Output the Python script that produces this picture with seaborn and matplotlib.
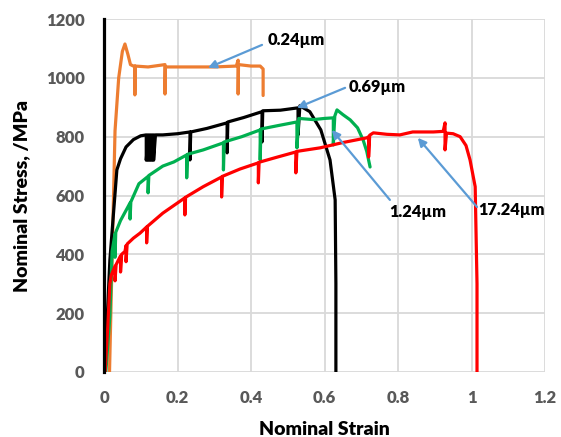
import matplotlib
matplotlib.use("Agg")
import matplotlib.pyplot as plt
import seaborn as sns
import pandas as pd

# ---- data ----
orange_x = [0.015, 0.03, 0.04, 0.05, 0.057, 0.065, 0.072, 0.08, 0.084, 0.084, 0.085, 0.12, 0.166, 0.166, 0.167,
            0.25, 0.30, 0.36, 0.365, 0.365, 0.366, 0.40, 0.425, 0.433, 0.433]
orange_y = [0, 820, 1000, 1090, 1115, 1080, 1045, 1040, 1040, 942, 1040, 1037, 1045, 945, 1037,
            1037, 1037, 1040, 1060, 945, 1045, 1040, 1040, 1030, 940]

black_x = [0.002, 0.016, 0.035, 0.045, 0.06, 0.08, 0.1, 0.115, 0.115, 0.12, 0.12, 0.125, 0.125, 0.13, 0.13,
           0.135, 0.135, 0.14, 0.16, 0.2, 0.234, 0.234, 0.236, 0.28, 0.335, 0.335, 0.337, 0.38, 0.43, 0.43,
           0.432, 0.48, 0.528, 0.528, 0.533, 0.56, 0.59, 0.615, 0.629, 0.631, 0.631]
black_y = [0, 381, 687, 725, 765, 790, 803, 806, 720, 806, 720, 806, 720, 806, 720,
           806, 720, 806, 806, 810, 816, 721, 816, 828, 847, 745, 850, 865, 885, 782,
           888, 890, 898, 806, 905, 885, 823, 721, 585, 300, 0]

green_x = [0.005, 0.016, 0.022, 0.03, 0.03, 0.032, 0.045, 0.065, 0.071, 0.071, 0.073, 0.095, 0.12, 0.12, 0.122,
           0.16, 0.19, 0.225, 0.225, 0.227, 0.27, 0.325, 0.325, 0.327, 0.375, 0.425, 0.425, 0.427, 0.475,
           0.525, 0.525, 0.53, 0.57, 0.6, 0.624, 0.624, 0.628, 0.634, 0.65, 0.67, 0.69, 0.705, 0.715, 0.724]
green_y = [0, 190, 410, 470, 390, 475, 515, 561, 575, 520, 578, 640, 665, 609, 668,
           700, 714, 738, 660, 740, 755, 779, 687, 782, 800, 823, 721, 826, 838,
           850, 762, 862, 858, 862, 864, 772, 870, 891, 875, 857, 830, 789, 750, 697]

red_x = [0.003, 0.01, 0.016, 0.02, 0.03, 0.03, 0.033, 0.045, 0.045, 0.048, 0.057, 0.06, 0.06, 0.063, 0.08,
         0.098, 0.116, 0.116, 0.118, 0.16, 0.22, 0.22, 0.222, 0.27, 0.32, 0.32, 0.322, 0.37, 0.42, 0.42,
         0.422, 0.47, 0.522, 0.522, 0.525, 0.588, 0.65, 0.715, 0.72, 0.72, 0.723, 0.733, 0.77, 0.805, 0.84,
         0.896, 0.923, 0.928, 0.928, 0.932, 0.95, 0.969, 0.985, 0.996, 1.01, 1.015, 1.015]
red_y = [0, 150, 300, 330, 360, 310, 365, 395, 340, 400, 410, 430, 375, 435, 455,
         472, 493, 439, 495, 540, 592, 534, 594, 630, 663, 595, 665, 690, 711, 643,
         713, 730, 748, 677, 750, 762, 780, 796, 800, 731, 805, 813, 808, 806, 816,
         816, 818, 847, 755, 812, 810, 800, 770, 721, 630, 300, 0]

series = [
    ("0.24µm", orange_x, orange_y, "#ED7D31"),
    ("0.69µm", black_x, black_y, "#000000"),
    ("1.24µm", green_x, green_y, "#00B050"),
    ("17.24µm", red_x, red_y, "#FF0000"),
]

# annotation: label, text pos, arrow tail, arrow head
annotations = [
    ("0.24µm", (0.446, 1129), (0.43, 1112), (0.283, 1034)),
    ("0.69µm", (0.667, 969), (0.656, 966), (0.525, 898)),
    ("1.24µm", (0.776, 544), (0.778, 585), (0.62, 823)),
    ("17.24µm", (1.018, 551), (1.015, 561), (0.854, 796)),
]

x_ticks = [0, 0.2, 0.4, 0.6, 0.8, 1.0, 1.2]
x_tick_labels = ["0", "0.2", "0.4", "0.6", "0.8", "1", "1.2"]
y_ticks = [0, 200, 400, 600, 800, 1000, 1200]

# ---- plot ----
sns.set_theme(style="white")
plt.rcParams['font.family'] = ['Lato', 'DejaVu Sans']

fig = plt.figure(figsize=(5.61, 4.37), dpi=100)
ax = fig.add_axes([104 / 561, 1 - 372 / 437, (545 - 104) / 561, (372 - 19) / 437])

for name, xs, ys, col in series:
    df = pd.DataFrame({"strain": xs, "stress": ys})
    sns.lineplot(data=df, x="strain", y="stress", sort=False, estimator=None,
                 color=col, linewidth=2.3, ax=ax, zorder=3)

ax.set_xlim(0, 1.2)
ax.set_ylim(0, 1200)
ax.set_xticks(x_ticks)
ax.set_xticklabels(x_tick_labels)
ax.set_yticks(y_ticks)
ax.grid(True, color="#D9D9D9", linewidth=1.3, zorder=0)
ax.set_axisbelow(True)
for s in ["top", "right", "bottom"]:
    ax.spines[s].set_visible(False)
ax.spines["left"].set_color("black")
ax.spines["left"].set_linewidth(2.3)
ax.spines["left"].set_zorder(4)
ax.tick_params(axis="both", length=0, labelsize=12, labelcolor="#595959")
ax.tick_params(axis="y", pad=14)
ax.tick_params(axis="x", pad=13)
for lab in ax.get_xticklabels() + ax.get_yticklabels():
    lab.set_fontweight("heavy")

ax.set_xlabel("Nominal Strain", fontsize=14, fontweight="heavy", color="black", labelpad=11)
ax.set_ylabel("Nominal Stress, /MPa", fontsize=14, fontweight="heavy", color="black", labelpad=11)

for label, tpos, tail, head in annotations:
    ax.annotate("", xy=head, xytext=tail,
                arrowprops=dict(arrowstyle="-|>", color="#5B9BD5", lw=1.6,
                                shrinkA=0, shrinkB=0, mutation_scale=12), zorder=5)
    ax.text(tpos[0], tpos[1], label, fontsize=11.8, fontweight="heavy", color="black",
            ha="left", va="center", zorder=6, clip_on=False)

fig.savefig("out.png", dpi=100)
